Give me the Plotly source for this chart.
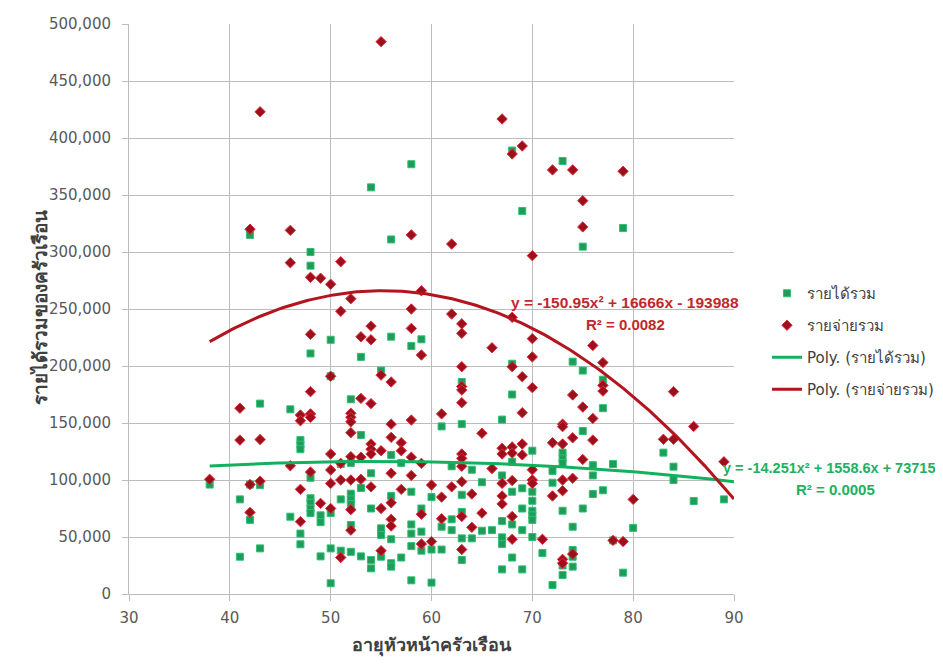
import numpy as np
import plotly.graph_objects as go

# ---- data (age, value in thousands of baht) ----
income_age = [38, 41, 41, 42, 42, 42, 43, 43, 43, 46, 46,
              47, 47, 47, 47, 47, 48, 48, 48, 48, 48, 48, 48, 48,
              49, 49, 49, 50, 50, 50, 50, 50, 51, 51, 51,
              52, 52, 52, 52, 52, 52, 52, 53, 53, 53, 53,
              54, 54, 54, 54, 54, 55, 55, 55, 55,
              56, 56, 56, 56, 56, 56, 56, 57, 57,
              58, 58, 58, 58, 58, 58, 58, 59, 59, 59, 59,
              60, 60, 60, 61, 61, 61, 62, 62, 62,
              63, 63, 63, 63, 63, 63, 64, 64, 65, 65, 66,
              67, 67, 67, 67, 67, 67, 68, 68, 68, 68, 68, 68, 68,
              69, 69, 69, 69, 69, 70, 70, 70, 70, 70, 70, 70, 71,
              72, 72, 72, 73, 73, 73, 73, 73, 73, 73,
              74, 74, 74, 74, 74, 75, 75, 75, 75, 76, 76, 76,
              77, 77, 77, 78, 78, 79, 79, 80, 83, 84, 84, 86, 89]
income_val = [96, 83, 32.7, 315, 96, 65, 167, 95.5, 40, 162, 67.8,
              135, 131, 127, 53, 43.6, 300, 288, 211, 102, 84, 80, 75, 71,
              69, 63, 33, 223, 191, 71, 40, 9.4, 114, 83, 38,
              170.8, 115, 88, 83, 79, 60.5, 37, 208, 139.5, 93, 33,
              356.7, 105.9, 75, 29.8, 22.5, 196, 57.6, 51.8, 32.7,
              311, 225.7, 122, 86, 48, 27, 24, 115, 32,
              377, 217.5, 89.7, 61, 53, 42, 12, 223.4, 75, 54.7, 38,
              85, 39, 10, 147, 59, 39, 112, 65.5, 56,
              186, 149, 87, 72, 48.8, 29.8, 109, 48.8, 98, 55.5, 56,
              153, 104, 64, 49.7, 43.9, 21.6, 389, 202, 175, 116, 89.7, 61, 32,
              336, 92.7, 75, 56, 21.6, 125.7, 89.7, 81.8, 73, 69, 65, 50, 36,
              108, 97.6, 7.9, 379.8, 124, 119, 115, 73, 25, 16.7,
              203.8, 59, 38.6, 32.7, 24, 304.7, 196, 143, 75, 113, 104, 87.7,
              188, 163, 91, 114, 47, 321, 18.7, 58, 124, 111.7, 100, 81.6, 83]

expense_age = [38, 41, 41, 42, 42, 42, 43, 43, 43, 46, 46, 46,
               47, 47, 47, 47, 48, 48, 48, 48, 48, 48, 49, 49,
               50, 50, 50, 50, 50, 50, 51, 51, 51, 51, 51,
               52, 52, 52, 52, 52, 52, 52, 52, 52, 53, 53, 53, 53,
               54, 54, 54, 54, 54, 54, 54, 55, 55, 55, 55, 55,
               56, 56, 56, 56, 56, 56, 56, 57, 57, 57,
               58, 58, 58, 58, 58, 58, 59, 59, 59, 59, 59, 60, 60,
               61, 61, 61, 62, 62, 62,
               63, 63, 63, 63, 63, 63, 63, 63, 63, 63, 63, 63,
               64, 64, 65, 65, 66, 66, 67, 67, 67, 67, 67, 67,
               68, 68, 68, 68, 68, 68, 68, 68, 69, 69, 69, 69, 69,
               70, 70, 70, 70, 70, 70, 70, 71, 72, 72, 72,
               73, 73, 73, 73, 73, 73, 73, 74, 74, 74, 74, 74,
               75, 75, 75, 75, 76, 76, 76, 77, 77, 77, 78, 79, 79,
               80, 83, 84, 84, 86, 89]
expense_val = [100.6, 163, 135, 320, 96, 71.6, 423, 135.5, 99, 319, 290.6, 112.5,
               157, 152, 91.8, 63.5, 277.8, 227.8, 177.5, 158, 155, 107, 277, 79.5,
               271.7, 191, 122.8, 108.8, 97, 75, 291.5, 248, 114.6, 100, 32,
               259, 158.5, 155, 151, 141.5, 120.5, 100, 74, 56, 225.6, 171.6, 120, 100.6,
               235, 223, 167, 131.6, 127, 122.8, 94, 484.5, 192, 125.7, 75, 38,
               186, 149, 137.4, 105.9, 80, 65.5, 59.6, 132.7, 125.7, 91.8,
               315, 250, 233, 152.6, 120, 104, 266, 209.6, 114.6, 70, 43.9, 95.6, 46,
               158, 85, 66, 307, 245.6, 94,
               237, 228.7, 199.4, 182, 179, 167.8, 122.8, 119, 112, 98.5, 68, 39,
               87.7, 58.5, 141, 71, 216, 110, 416.7, 127.8, 122.8, 97, 86, 79,
               386, 242.7, 199.4, 129, 123.6, 99.5, 68, 48, 393, 190.6, 159, 131.6, 122,
               296.8, 224, 208, 181, 109, 100, 97, 48, 372, 132.7, 86,
               149, 146.8, 131.6, 100, 90.6, 30.4, 27, 372, 174.6, 137, 101.5, 35,
               345, 322, 164, 118, 218, 154, 135, 203, 183, 178, 47, 370.8, 46,
               83, 135.7, 177.5, 135.7, 147, 116]

# polynomial trendline coefficients as printed on the chart (a, b, c)
income_poly = [-14.251, 1558.6, 73715]
expense_poly = [-150.95, 16666, -193988]
trend_range = [38, 90]

x_ticks = [30, 40, 50, 60, 70, 80, 90]
y_ticks = list(range(0, 500001, 50000))

income_y = [v * 1000 for v in income_val]
expense_y = [v * 1000 for v in expense_val]
tx = np.linspace(trend_range[0], trend_range[1], 200)
inc_trend = np.polyval(income_poly, tx)
exp_trend = np.polyval(expense_poly, tx)

GREEN = "#1e9c5a"
THAI = "Tahoma, DejaVu Sans, sans-serif"
EQF = "Liberation Sans, Arial, sans-serif"

fig = go.Figure()
fig.add_trace(go.Scatter(x=income_age, y=income_y, mode="markers", name="รายได้รวม",
                         legendgroup="a",
                         marker=dict(symbol="square", size=7, color=GREEN,
                                     line=dict(color="#2fbf73", width=1))))
fig.add_trace(go.Scatter(x=expense_age, y=expense_y, mode="markers", name="รายจ่ายรวม",
                         legendgroup="b",
                         marker=dict(symbol="diamond", size=8, color="#9c0f1c",
                                     line=dict(color="#e0303a", width=1))))
fig.add_trace(go.Scatter(x=tx, y=inc_trend, mode="lines", name="Poly. (รายได้รวม)",
                         legendgroup="c", line=dict(color="#13b05e", width=3)))
fig.add_trace(go.Scatter(x=tx, y=exp_trend, mode="lines", name="Poly. (รายจ่ายรวม)",
                         legendgroup="d", line=dict(color="#b3141e", width=3)))

W, H = 943, 667
OFF = 8  # page body margin
L, R, T, B = 129, 734, 24, 594  # plot area in page pixels
pw, ph = R - L, B - T


def px(xp):
    return (xp - L) / pw


def py(yp):
    return (B - yp) / ph


grid = "#bcbcbc"
fig.update_layout(
    width=W, height=H,
    margin=dict(l=L - OFF, r=W + OFF - R, t=T - OFF, b=H + OFF - B, pad=0,
                autoexpand=False),
    paper_bgcolor="white", plot_bgcolor="white",
    font=dict(family=THAI, size=15, color="#595959"),
    showlegend=True,
    legend=dict(x=px(767), y=py(277), xanchor="left", yanchor="top",
                traceorder="grouped", tracegroupgap=9.5,
                font=dict(family=THAI, size=15, color="#404040"),
                bgcolor="rgba(0,0,0,0)"),
    xaxis=dict(range=[30, 90], tickvals=x_ticks, showgrid=True, gridcolor=grid,
               gridwidth=1, showline=True, linecolor=grid, zeroline=False,
               ticks="outside", ticklen=6, tickcolor=grid, ticklabelstandoff=4,
               mirror=False, tickfont=dict(size=15, color="#595959")),
    yaxis=dict(range=[0, 500000], tickvals=y_ticks, tickformat=",d",
               showgrid=True, gridcolor=grid, gridwidth=1, showline=True,
               linecolor=grid, zeroline=False, ticks="outside", ticklen=6,
               tickcolor=grid, ticklabelstandoff=8,
               tickfont=dict(size=15, color="#595959")),
)

ann = [
    dict(text="<b>อายุหัวหน้าครัวเรือน</b>", x=px(432), y=py(645),
         font=dict(size=18, color="#404040")),
    dict(text="<b>รายได้รวมของครัวเรือน</b>", x=px(40), y=py(308), textangle=-90,
         font=dict(size=19, color="#404040")),
    dict(text="<b>y = -150.95x² + 16666x - 193988</b>", x=px(625), y=py(302),
         font=dict(family=EQF, size=15.5, color="#c0282d")),
    dict(text="<b>R² = 0.0082</b>", x=px(625), y=py(324),
         font=dict(family=EQF, size=15, color="#c0282d")),
    dict(text="<b>y = -14.251x² + 1558.6x + 73715</b>", x=px(721), y=py(468),
         xanchor="left", font=dict(family=EQF, size=14.5, color="#1eb060")),
    dict(text="<b>R² = 0.0005</b>", x=px(835), y=py(489),
         font=dict(family=EQF, size=15, color="#1eb060")),
]
for a in ann:
    a.setdefault("xanchor", "center")
    fig.add_annotation(xref="paper", yref="paper", showarrow=False, yanchor="middle", **a)

fig.add_shape(type="rect", xref="paper", yref="paper",
              x0=px(7), x1=px(940), y0=py(690), y1=py(7),
              line=dict(color="#d0d0d0", width=1), layer="below")

fig.write_html("out.html")
